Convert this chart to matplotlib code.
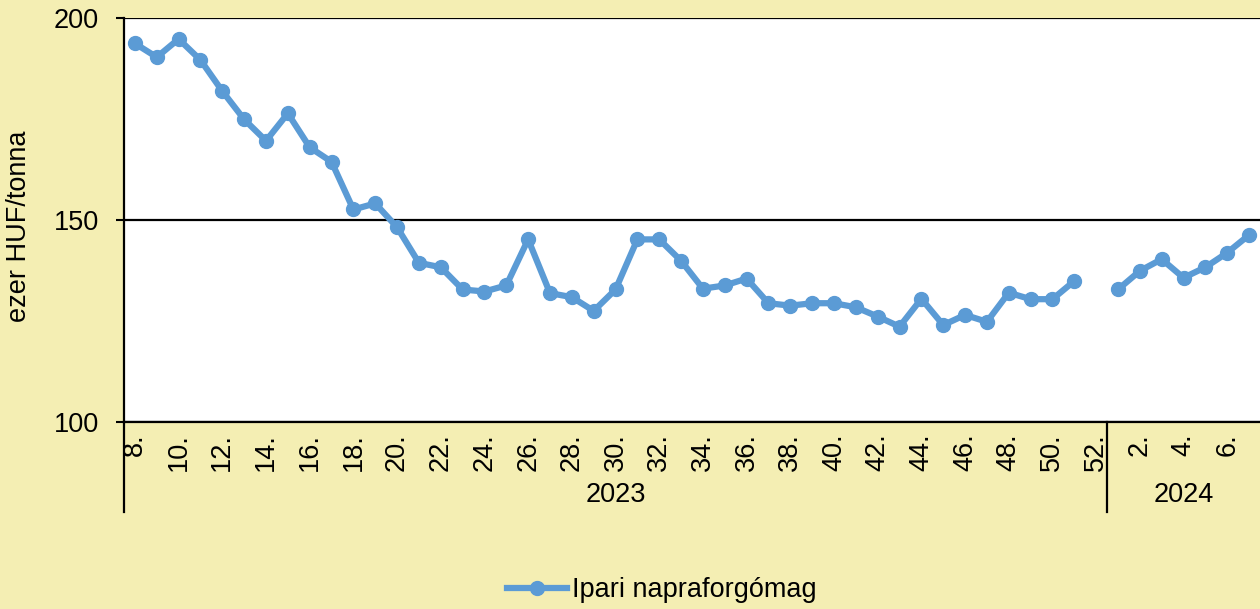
import matplotlib
matplotlib.use("Agg")
import matplotlib.pyplot as plt
import matplotlib.transforms as mtransforms
import numpy as np

plt.rcParams['font.family'] = ['Liberation Sans', 'DejaVu Sans']

weeks_2023 = list(range(8, 53))
weeks_2024 = list(range(1, 8))
values_2023 = [193.7, 190.3, 194.8, 189.6, 181.9, 174.9, 169.6, 176.4, 168.0, 164.4,
               152.6, 154.1, 148.2, 139.4, 138.3, 132.8, 132.3, 133.8, 145.2, 131.9,
               130.9, 127.5, 132.8, 145.2, 145.2, 139.9, 133.0, 133.8, 135.5, 129.4,
               128.8, 129.4, 129.4, 128.4, 126.1, 123.6, 130.5, 124.0, 126.5, 124.8,
               132.0, 130.4, 130.4, 134.9, None]
values_2024 = [132.8, 137.4, 140.3, 135.7, 138.3, 141.9, 146.3]
years = ["2023", "2024"]
series_name = "Ipari napraforgómag"
ylabel = "ezer HUF/tonna"

labels = [f"{w}." for w in weeks_2023] + [f"{w}." for w in weeks_2024]
week_nums = weeks_2023 + weeks_2024
vals = np.array([np.nan if v is None else v for v in values_2023 + values_2024], dtype=float)
x = np.arange(len(vals))

bg = "#F4EEB3"
color = "#5B9BD5"
fs = 19.5

fig = plt.figure(figsize=(12.6, 6.09), dpi=100, facecolor=bg)
ax = fig.add_axes([124/1260, 1 - 422/609, 1 - 124/1260, 404/609])
ax.set_facecolor("white")

ax.plot(x, vals, color=color, lw=4.5, marker='o', markersize=10, label=series_name,
        solid_joinstyle='round', zorder=3)

ax.set_xlim(-0.5, len(vals) - 0.5)
ax.set_ylim(100, 200)
ax.set_yticks([100, 150, 200])
ax.yaxis.grid(True, color='black', lw=1.6)
ax.set_axisbelow(True)
ax.tick_params(axis='y', labelsize=fs, length=6, width=1.5, pad=12)

tick_pos = [i for i, w in enumerate(week_nums) if w % 2 == 0]
ax.set_xticks(tick_pos)
ax.set_xticklabels([labels[i] for i in tick_pos], rotation=90, fontsize=fs, va='top', ha='center')
ax.tick_params(axis='x', length=0, pad=8)

for s in ['top', 'right']:
    ax.spines[s].set_visible(False)
for s in ['left', 'bottom']:
    ax.spines[s].set_linewidth(1.6)
    ax.spines[s].set_color('black')

trans = mtransforms.blended_transform_factory(ax.transData, ax.transAxes)
n23 = len(weeks_2023)
for xb in [-0.5, n23 - 0.5]:
    ax.plot([xb, xb], [0, -0.223], transform=trans, color='black', lw=1.6, clip_on=False)
ax.text((n23 - 1) / 2, -0.18, years[0], transform=trans, ha='center', va='center', fontsize=fs)
ax.text(n23 - 0.5 + len(weeks_2024) / 2, -0.18, years[1], transform=trans, ha='center', va='center', fontsize=fs)

fig.text(19/1260, 1 - 226/609, ylabel, rotation=90, ha='center', va='center', fontsize=fs)

fig.legend(loc='center', bbox_to_anchor=(662/1260, 1 - 590/609), frameon=False,
           fontsize=fs, handlelength=2.2, handletextpad=0.2)

fig.savefig("out.png", dpi=100, facecolor=bg)
